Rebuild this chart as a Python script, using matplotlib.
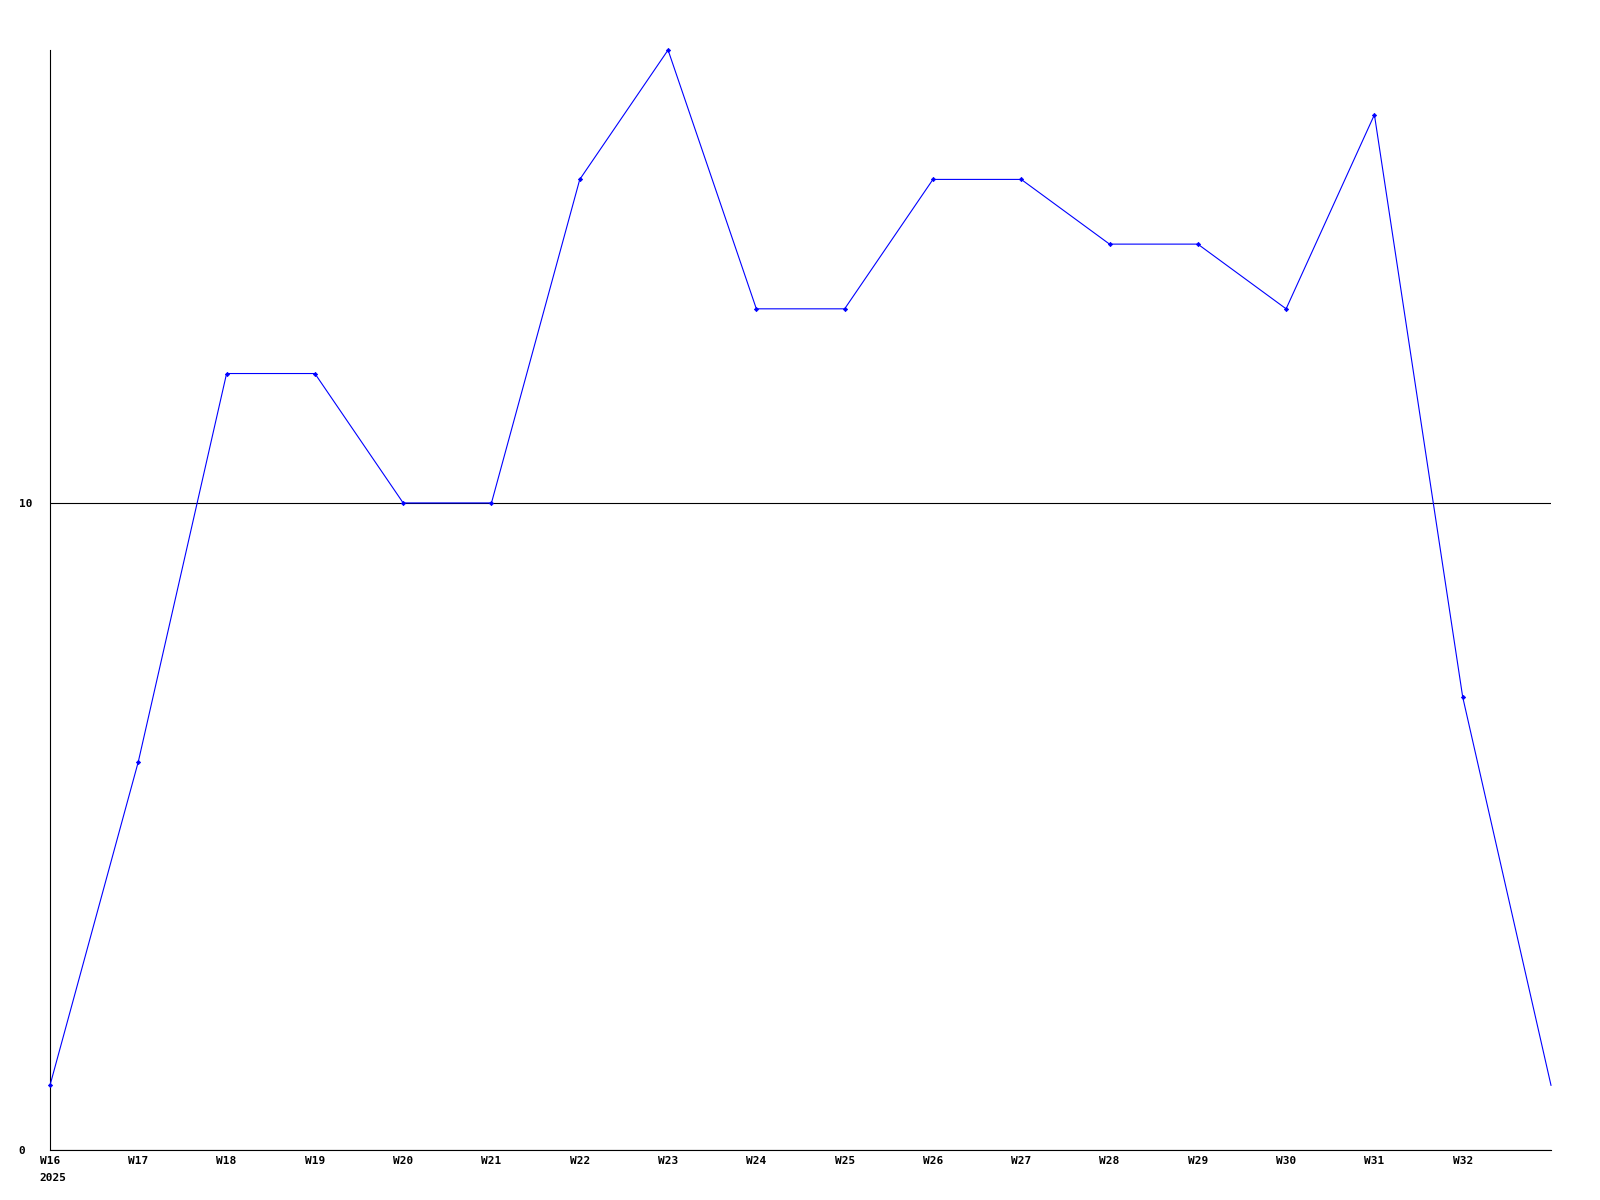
import matplotlib
matplotlib.use("Agg")
import matplotlib.pyplot as plt

weeks = ["W16", "W17", "W18", "W19", "W20", "W21", "W22", "W23", "W24",
         "W25", "W26", "W27", "W28", "W29", "W30", "W31", "W32", ""]
values = [1, 6, 12, 12, 10, 10, 15, 17, 13, 13, 15, 15, 14, 14, 13, 16, 7, 1]
year_label = "2025"
y_ticks = [0, 10]

fig = plt.figure(figsize=(16, 12), dpi=100)
ax = fig.add_axes([50 / 1600, 50 / 1200, (1551 - 50) / 1600, (1150 - 50) / 1200])

x = list(range(len(values)))
ax.plot(x, values, color="#0000ff", linewidth=0.8, marker="D", markersize=2.2,
        markeredgewidth=0.5, markevery=list(range(len(values) - 1)),
        clip_on=False, zorder=3)

ax.set_xlim(0, len(values) - 1)
ax.set_ylim(0, 17)

font = dict(family="DejaVu Sans Mono", weight="bold", size=8)
ax.set_xticks(x[:-1])
ax.set_xticklabels(weeks[:-1], **font)
ax.set_yticks(y_ticks)
ax.set_yticklabels([str(v) for v in y_ticks], ha="left", **font)
ax.tick_params(axis="both", length=0)
ax.tick_params(axis="x", pad=4)
ax.tick_params(axis="y", pad=22.5)

ax.yaxis.grid(True, color="black", linewidth=0.8)
ax.set_axisbelow(True)

for s in ["top", "right"]:
    ax.spines[s].set_visible(False)
for s in ["left", "bottom"]:
    ax.spines[s].set_linewidth(0.8)
    ax.spines[s].set_color("black")

ax.annotate(year_label, xy=(0, 0), xycoords="data", xytext=(-11, -23),
            textcoords="offset pixels", ha="left", va="top", **font)

fig.savefig("out.png", dpi=100)
